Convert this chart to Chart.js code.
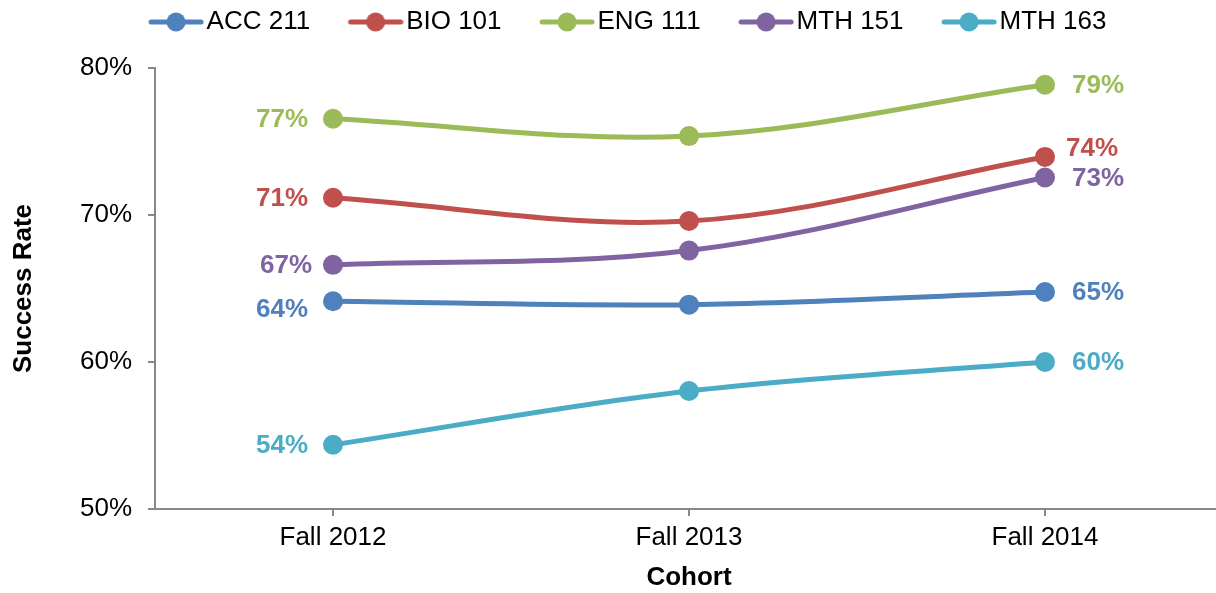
<!DOCTYPE html>
<html>
<head>
<meta charset="utf-8">
<script src="https://cdn.jsdelivr.net/npm/chart.js@4"></script>
<style>
  html, body { margin: 0; padding: 0; background: #fff; overflow: hidden; }
  #wrap { width: 1233px; height: 593px; }
</style>
</head>
<body>
<div id="wrap"><canvas id="successChart" width="1233" height="593"></canvas></div>
<script>
const cohorts = ['Fall 2012', 'Fall 2013', 'Fall 2014'];
const courses = ['ACC 211', 'BIO 101', 'ENG 111', 'MTH 151', 'MTH 163'];
const acc211 = [64.13, 63.9, 64.76];
const bio101 = [71.17, 69.59, 73.95];
const eng111 = [76.55, 75.37, 78.86];
const mth151 = [66.61, 67.58, 72.55];
const mth163 = [54.37, 58.03, 60.0];
const yTicks = [50, 60, 70, 80];

const colors = ['#4F81BD', '#C0504D', '#9BBB59', '#8064A2', '#4BACC6'];
const series = [acc211, bio101, eng111, mth151, mth163];
const FONT = '"Liberation Sans", Arial, sans-serif';

// legend marker: line with a dot, drawn on the right part of a wider transparent image
function legendMarker(color) {
  const c = document.createElement('canvas');
  c.width = 96; c.height = 24;
  const g = c.getContext('2d');
  g.strokeStyle = color;
  g.lineWidth = 5;
  g.lineCap = 'round';
  g.beginPath(); g.moveTo(43, 12); g.lineTo(93, 12); g.stroke();
  g.fillStyle = color;
  g.beginPath(); g.arc(68, 12, 9.5, 0, Math.PI * 2); g.fill();
  return c;
}

// end-of-line value labels
const endLabels = {
  id: 'endLabels',
  afterDatasetsDraw(chart, args, opts) {
    const ctx = chart.ctx;
    ctx.save();
    ctx.font = 'bold 26px ' + FONT;
    ctx.textBaseline = 'middle';
    chart.data.datasets.forEach((ds, i) => {
      const meta = chart.getDatasetMeta(i);
      const nudge = opts.nudges[ds.label] || {};
      [0, ds.data.length - 1].forEach(j => {
        const pt = meta.data[j];
        const first = j === 0;
        const n = (first ? nudge.first : nudge.last) || [0, 0];
        ctx.fillStyle = ds.borderColor;
        ctx.textAlign = first ? 'right' : 'left';
        ctx.fillText(Math.round(ds.data[j]) + '%', pt.x + (first ? -25 : 27) + n[0], pt.y + 1 + n[1]);
      });
    });
    ctx.restore();
  }
};

// extra room under the legend, and a small horizontal shift of it
const legendTweak = {
  id: 'legendTweak',
  beforeInit(chart) {
    const lg = chart.legend;
    const fit = lg.fit;
    lg.fit = function () { fit.call(lg); this.height += 24; };
    const draw = lg.draw;
    lg.draw = function () {
      chart.ctx.save();
      chart.ctx.translate(-4, 1);
      draw.call(lg);
      chart.ctx.restore();
    };
  }
};

new Chart(document.getElementById('successChart'), {
  type: 'line',
  data: {
    labels: cohorts,
    datasets: courses.map((name, i) => ({
      label: name,
      data: series[i],
      borderColor: colors[i],
      backgroundColor: colors[i],
      borderWidth: 5,
      tension: 0.35,
      pointRadius: 10,
      pointBorderWidth: 0,
      pointBackgroundColor: colors[i],
      pointHoverRadius: 10,
    })),
  },
  options: {
    responsive: false,
    animation: false,
    events: [],
    layout: { padding: 0 },
    scales: {
      x: {
        offset: true,
        afterFit: s => { s.height = 84; },
        grid: { drawOnChartArea: false, drawTicks: true, tickLength: 7, color: '#888', lineWidth: 2 },
        border: { color: '#888', width: 2 },
        ticks: { color: '#000', padding: 6, font: { family: FONT, size: 26 } },
        title: {
          display: true, text: 'Cohort', color: '#000',
          padding: { top: 0, bottom: 0 },
          font: { family: FONT, size: 26, weight: 'bold' },
        },
      },
      y: {
        min: 50,
        max: 80,
        afterFit: s => { s.width = 155; },
        afterBuildTicks: s => { s.ticks = yTicks.map(v => ({ value: v })); },
        grid: { drawOnChartArea: false, drawTicks: true, tickLength: 7, color: '#888', lineWidth: 2 },
        border: { color: '#888', width: 2 },
        ticks: { color: '#000', padding: 16, font: { family: FONT, size: 26 }, callback: v => v + '%' },
        title: {
          display: true, text: 'Success Rate', color: '#000',
          padding: { top: 8, bottom: 0 },
          font: { family: FONT, size: 26, weight: 'bold' },
        },
      },
    },
    plugins: {
      legend: {
        position: 'top',
        labels: {
          usePointStyle: true,
          pointStyleWidth: 75,
          padding: 8,
          color: '#000',
          font: { family: FONT, size: 26 },
          generateLabels: chart => Chart.defaults.plugins.legend.labels.generateLabels(chart)
            .map((item, i) => Object.assign(item, { pointStyle: legendMarker(colors[i]) })),
        },
      },
      tooltip: { enabled: false },
      endLabels: {
        nudges: {
          'ACC 211': { first: [0, 8] },
          'BIO 101': { last: [-6, -9] },
          'MTH 151': { first: [4, 0] },
        },
      },
    },
  },
  plugins: [endLabels, legendTweak],
});
</script>
</body>
</html>
